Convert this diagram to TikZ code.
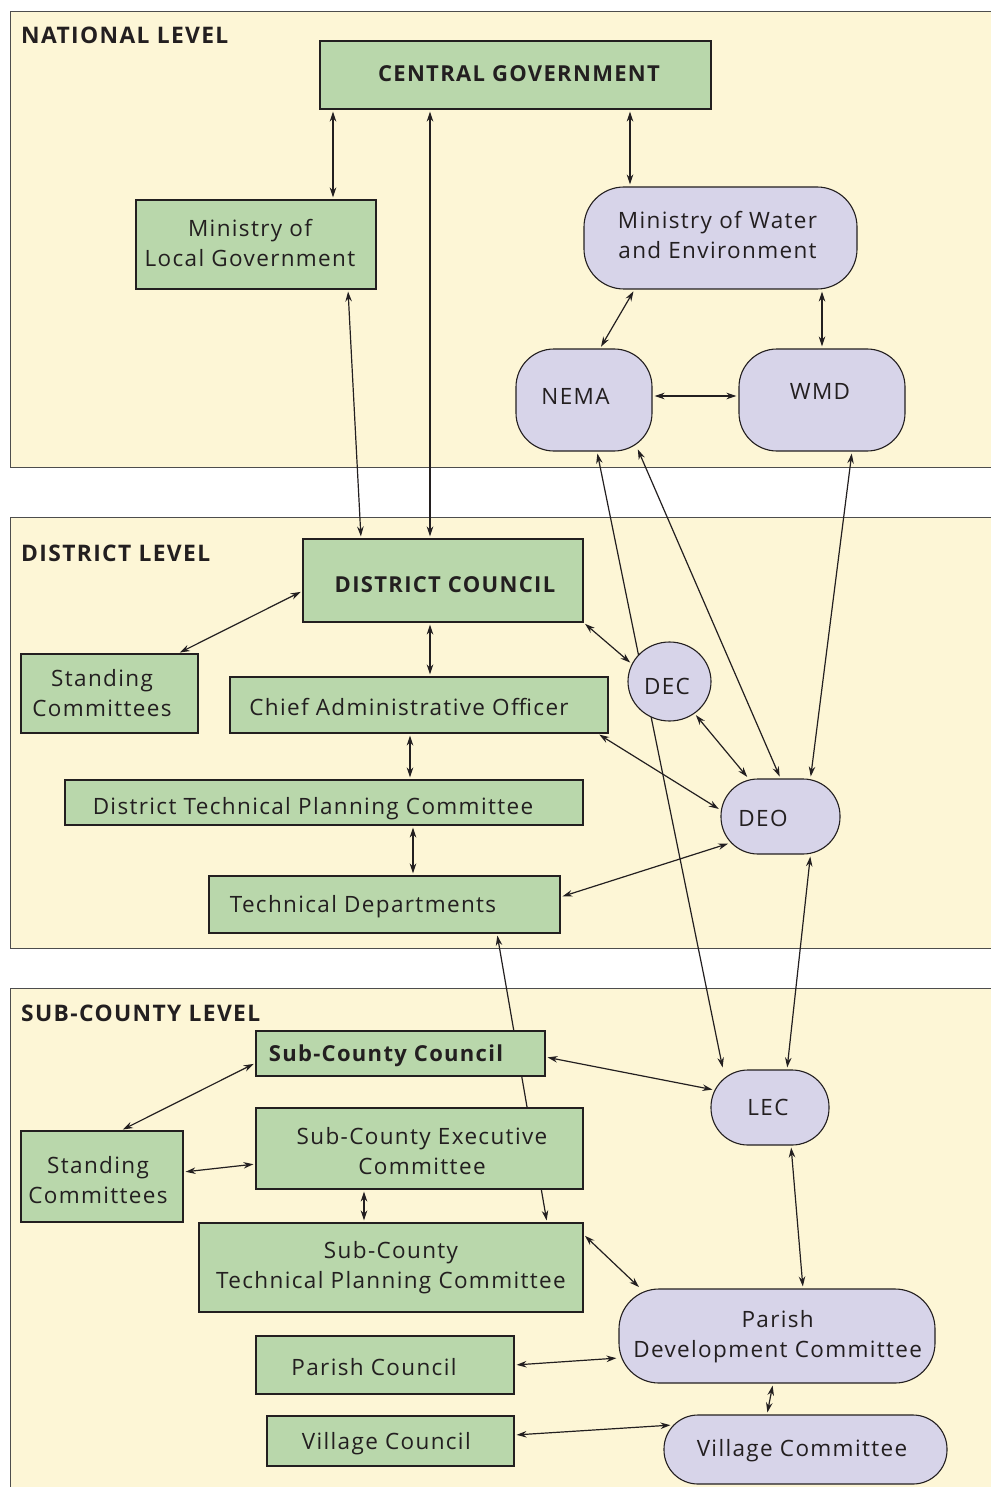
\documentclass[tikz,border=0pt]{standalone}
\usepackage{fontspec}
\setmainfont{Open Sans}[LetterSpace=6]
\usetikzlibrary{arrows.meta,shapes.geometric}
\pgfdeclarelayer{panel}
\pgfdeclarelayer{lines}
\pgfsetlayers{panel,lines,main}
\definecolor{cream}{HTML}{FDF6D6}
\definecolor{leaf}{HTML}{B9D7AB}
\definecolor{lav}{HTML}{D7D4E9}
\definecolor{ink}{HTML}{231F20}
\definecolor{frame}{HTML}{4D4D4D}
\begin{document}
\begin{tikzpicture}[x=1pt,y=-1pt,
  panelbox/.style={draw=frame, fill=cream, line width=1pt},
  gbox/.style={draw=ink, fill=leaf, line width=1.1pt, inner sep=0pt},
  lbox/.style={draw=ink, fill=lav, line width=1.1pt, inner sep=0pt},
  txt/.style={font=\fontsize{22.5}{30}\selectfont, text=ink, align=center, inner sep=0pt, anchor=base},
  btxt/.style={font=\fontsize{22}{30}\selectfont\bfseries, text=ink, inner sep=0pt, anchor=base},
  lvl/.style={font=\fontsize{22.8}{26}\selectfont\bfseries, text=ink, inner sep=0pt, anchor=base west},
  link/.style={draw=ink, line width=1.2pt, {Stealth[length=10pt,width=6.5pt]}-{Stealth[length=10pt,width=6.5pt]}, shorten <=2pt, shorten >=2pt}
]
\useasboundingbox (0,0) rectangle (990,1487);
\clip (0,0) rectangle (990,1487);

% ---------- nodes ----------
\node[gbox, minimum width=391, minimum height=68] (cg) at (515.5,75) {};
\node[btxt] (tcg) at (519,82) {CENTRAL GOVERNMENT};
\node[gbox, minimum width=240, minimum height=89] (molg) at (256,244.5) {};
\node[txt] (tmolg) at (250,266.7) {Ministry of\\Local Government};
\node[lbox, rounded corners=40pt, minimum width=273, minimum height=102] (mowe) at (720.5,238) {};
\node[txt] (tmowe) at (717.5,258.7) {Ministry of Water\\and Environment};
\node[lbox, rounded corners=38pt, minimum width=136, minimum height=102] (nema) at (584,400) {};
\node[txt] (tnema) at (575.5,404) {NEMA};
\node[lbox, rounded corners=38pt, minimum width=166, minimum height=102] (wmd) at (822,400) {};
\node[txt] (twmd) at (820,399) {WMD};

\node[gbox, minimum width=280, minimum height=83] (dc) at (443,580.5) {};
\node[btxt] (tdc) at (445,592) {DISTRICT COUNCIL};
\node[gbox, minimum width=177, minimum height=79] (sc1) at (109.5,693.5) {};
\node[txt] (tsc1) at (102,716) {Standing\\Committees};
\node[gbox, minimum width=378, minimum height=56] (cao) at (419,705) {};
\node[txt] (tcao) at (409,715) {Chief Administrative Officer};
\node[lbox, ellipse, minimum width=83, minimum height=79] (dec) at (669.5,681.5) {};
\node[txt] (tdec) at (667,694) {DEC};
\node[lbox, rounded corners=37pt, minimum width=119, minimum height=75] (deo) at (780.5,816.5) {};
\node[txt] (tdeo) at (763,826) {DEO};
\node[gbox, minimum width=518, minimum height=45] (dtpc) at (324,802.5) {};
\node[txt] (tdtpc) at (313,814) {District Technical Planning Committee};
\node[gbox, minimum width=351, minimum height=57] (td) at (384.5,904.5) {};
\node[txt] (ttd) at (363,912) {Technical Departments};

\node[gbox, minimum width=289, minimum height=45] (scc) at (400.5,1053.5) {};
\node[btxt] (tscc) at (386,1061) {Sub-County Council};
\node[gbox, minimum width=162, minimum height=91] (sc2) at (102,1176.5) {};
\node[txt] (tsc2) at (98,1203) {Standing\\Committees};
\node[gbox, minimum width=327, minimum height=81] (sce) at (419.5,1148.5) {};
\node[txt] (tsce) at (422,1174) {Sub-County Executive\\Committee};
\node[gbox, minimum width=384, minimum height=89] (sctpc) at (391,1267.5) {};
\node[txt] (tsctpc) at (391,1288) {Sub-County\\Technical Planning Committee};
\node[lbox, rounded corners=37pt, minimum width=118, minimum height=75] (lec) at (770,1107.5) {};
\node[txt] (tlec) at (768,1115) {LEC};
\node[lbox, rounded corners=40pt, minimum width=316, minimum height=94] (pdc) at (777,1336) {};
\node[txt] (tpdc) at (777.7,1357.7) {Parish\\Development Committee};
\node[gbox, minimum width=258, minimum height=58] (pc) at (385,1365) {};
\node[txt] (tpc) at (374,1375) {Parish Council};
\node[gbox, minimum width=247, minimum height=50] (vc) at (390.5,1441) {};
\node[txt] (tvc) at (386.3,1449.3) {Village Council};
\node[lbox, rounded corners=34pt, minimum width=283, minimum height=69] (vcm) at (805.5,1449.5) {};
\node[txt] (tvcm) at (802,1456) {Village Committee};

% ---------- panels ----------
\begin{pgfonlayer}{panel}
\draw[panelbox] (10,12) rectangle (1005,467);
\draw[panelbox] (10,517) rectangle (1005,948);
\draw[panelbox] (10,988) rectangle (1005,1510);
\end{pgfonlayer}
\node[lvl] (lnat) at (21,44) {NATIONAL LEVEL};
\node[lvl] (ldis) at (21,561) {DISTRICT LEVEL};
\node[lvl] (lsub) at (21,1021) {SUB-COUNTY LEVEL};

% ---------- connectors ----------
\begin{pgfonlayer}{lines}
\draw[link] ([xshift=-182.5pt]cg.south) -- ([xshift=77pt]molg.north);
\draw[link] ([xshift=-85.5pt]cg.south) -- ([xshift=-13pt]dc.north);
\draw[link] ([xshift=114.5pt]cg.south) -- ([xshift=-90.5pt]mowe.north);
\draw[link] ([xshift=92pt]molg.south) -- ([xshift=-82pt]dc.north);
\draw[link] ([xshift=-86pt]mowe.south) -- ([xshift=16pt]nema.north);
\draw[link] ([xshift=101.5pt]mowe.south) -- (wmd.north);
\draw[link] ([yshift=4pt]nema.east) -- ([yshift=4pt]wmd.west);
\draw[link] ([xshift=13pt]nema.south) -- ([xshift=-47pt]lec.north);
\draw[link] ([xshift=53pt,yshift=4pt]nema.south) -- (deo.north);
\draw[link] ([xshift=30pt]wmd.south) -- ([xshift=30pt]deo.north);
\draw[link] ([xshift=30pt]deo.south) -- ([xshift=17pt]lec.north);
\draw[link] (dc.south east) -- (dec.155);
\draw[link] (dec.-52) -- ([xshift=-32pt]deo.north);
\draw[link] ([xshift=-11pt]cao.south east) -- ([yshift=6.5pt]deo.west);
\draw[link] ([yshift=7.5pt]td.east) -- ([xshift=-50.5pt,yshift=-26.5pt]deo.center);
\draw[link] ([xshift=-13pt]dc.south) -- ([xshift=11pt]cao.north);
\draw[link] ([xshift=-9pt]cao.south) -- ([xshift=86pt]dtpc.north);
\draw[link] ([xshift=89pt]dtpc.south) -- ([xshift=28.5pt]td.north);
\draw[link] ([yshift=-10.5pt]dc.west) -- ([xshift=68.5pt]sc1.north);
\draw[link] ([xshift=112.5pt]td.south) -- ([xshift=156pt]sctpc.north);
\draw[link] ([yshift=-9.5pt]scc.west) -- ([xshift=19pt]sc2.north);
\draw[link] ([yshift=-15.5pt]sce.west) -- ([yshift=4.5pt]sc2.east);
\draw[link] ([xshift=-55.5pt]sce.south) -- ([xshift=-27pt]sctpc.north);
\draw[link] ([yshift=-3.5pt]scc.east) -- ([xshift=4pt,yshift=17.5pt]lec.west);
\draw[link] ([yshift=-12pt]sctpc.north east) -- ([xshift=22pt]pdc.north west);
\draw[link] ([xshift=21pt]lec.south) -- ([xshift=26pt]pdc.north);
\draw[link] (pc.east) -- ([yshift=-22pt]pdc.west);
\draw[link] ([yshift=6pt]vc.east) -- ([xshift=9pt,yshift=24.5pt]vcm.west);
\draw[link] ([xshift=-4pt]pdc.south) -- ([xshift=-38.5pt]vcm.north);
\end{pgfonlayer}
\end{tikzpicture}
\end{document}
